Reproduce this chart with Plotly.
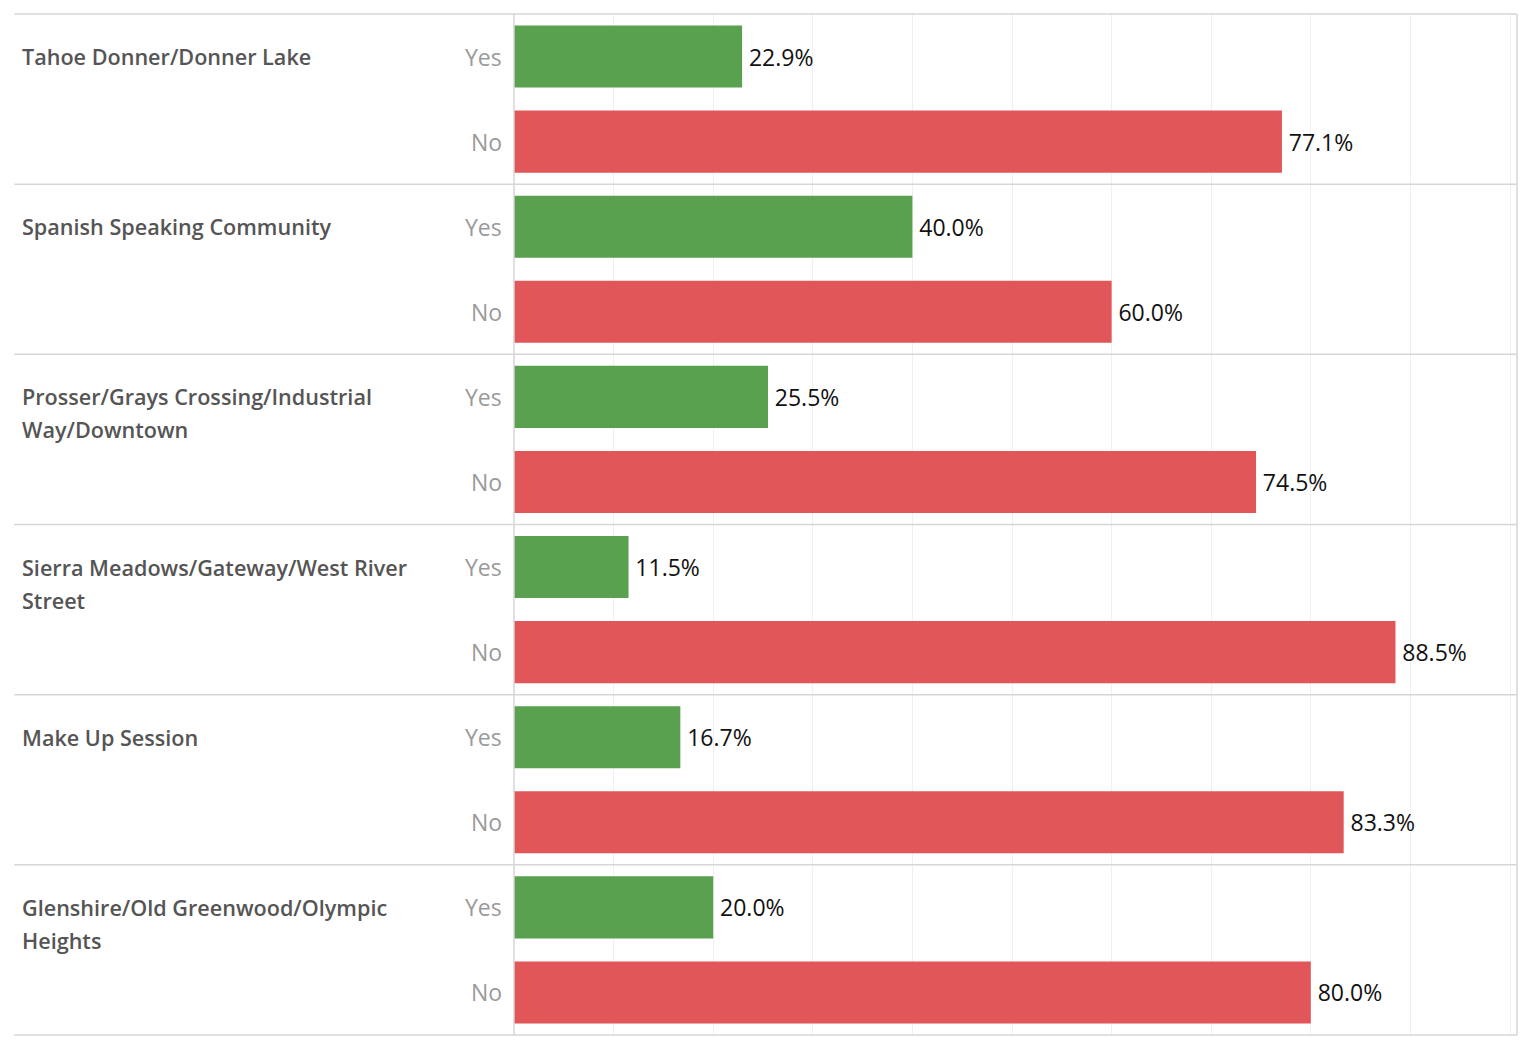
import plotly.graph_objects as go

categories = [
    "Tahoe Donner/Donner Lake",
    "Spanish Speaking Community",
    "Prosser/Grays Crossing/Industrial<br>Way/Downtown",
    "Sierra Meadows/Gateway/West River<br>Street",
    "Make Up Session",
    "Glenshire/Old Greenwood/Olympic<br>Heights",
]
yes_values = [22.9, 40.0, 25.5, 11.5, 16.7, 20.0]
no_values = [77.1, 60.0, 74.5, 88.5, 83.3, 80.0]
answer_labels = ["Yes", "No"]

GREEN = "#59a14f"
RED = "#e15759"
SEP = "#d6d6d6"
FONT = "Open Sans"
PLOT_W = 1003.5

y_yes = [f"{i}|Yes" for i in range(len(categories))]
y_no = [f"{i}|No" for i in range(len(categories))]
order = []
for a, b in zip(y_yes, y_no):
    order += [a, b]

fig = go.Figure()
for vals, ys, col in [(yes_values, y_yes, GREEN), (no_values, y_no, RED)]:
    fig.add_trace(go.Bar(
        x=vals, y=ys, orientation="h", marker_color=col,
        marker_line_width=0,
        text=[f"\u2009{v:.1f}%" for v in vals], textposition="outside",
        textfont=dict(family=FONT, size=23, color="#111111"),
        cliponaxis=False, showlegend=False,
    ))

annotations = []
for i, cat in enumerate(categories):
    lines = cat.split("<br>")
    for k, line in enumerate(lines):
        annotations.append(dict(
            x=(20 - 514) / PLOT_W, xref="paper", xanchor="left",
            y=y_yes[i], yref="y", yanchor="middle", yshift=-33 * k,
            text=line, showarrow=False,
            font=dict(family=FONT, size=21.6, color="#555555", weight=600),
        ))
    for lab, yv in zip(answer_labels, [y_yes[i], y_no[i]]):
        annotations.append(dict(
            x=(504 - 514) / PLOT_W, xref="paper", xanchor="right",
            y=yv, yref="y", yanchor="middle",
            text=lab, showarrow=False,
            font=dict(family=FONT, size=23, color="#9a9a9a"),
        ))

shapes = []
n = len(categories)
for k in range(n + 1):
    yk = 1 - k / n
    shapes.append(dict(type="line", xref="paper", yref="paper",
                       x0=(14 - 514) / PLOT_W, x1=1.0, y0=yk, y1=yk,
                       line=dict(color=SEP, width=1.5)))
shapes.append(dict(type="line", xref="paper", yref="paper",
                   x0=1.0, x1=1.0, y0=0, y1=1,
                   line=dict(color=SEP, width=1.5)))
shapes.append(dict(type="line", xref="paper", yref="paper",
                   x0=0, x1=0, y0=0, y1=1,
                   line=dict(color=SEP, width=1.5)))

fig.update_layout(
    width=1519, height=1039,
    margin=dict(l=506, r=10, t=6, b=12),
    paper_bgcolor="white", plot_bgcolor="white",
    barmode="overlay", bargap=0.27,
    annotations=annotations, shapes=shapes,
    xaxis=dict(range=[0, 100.7], dtick=10, showgrid=True,
               gridcolor="#f0f0f0", gridwidth=1, zeroline=False,
               showticklabels=False, ticks="", showline=False),
    yaxis=dict(categoryorder="array", categoryarray=order,
               autorange="reversed", showticklabels=False, ticks="",
               showgrid=False, zeroline=False, showline=False),
)

fig.write_html("out.html")
